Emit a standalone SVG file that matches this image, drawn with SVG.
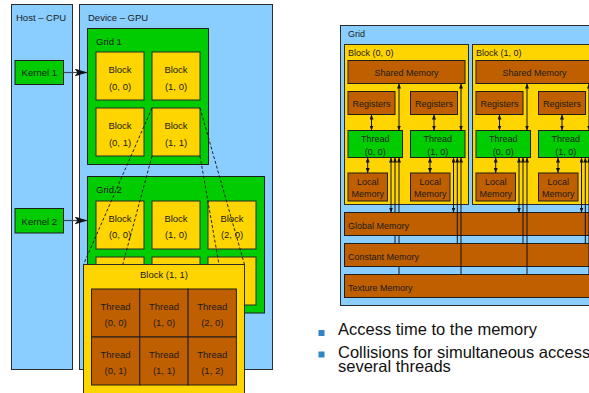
<svg xmlns="http://www.w3.org/2000/svg" width="589" height="393" viewBox="0 0 589 393">
<defs>
<style>
.bl{fill:#8ACEFF;stroke:#2b2b2b;stroke-width:1}
.gr{fill:#00CC00;stroke:#1e1e1e;stroke-width:1}
.ye{fill:#FFD500;stroke:#2b2b2b;stroke-width:1}
.br{fill:#BF5F00;stroke:#1e1e1e;stroke-width:1}
text{font-family:"Liberation Sans",Arial,sans-serif;fill:#1a1a1a}
.l{font-size:9.5px}
.r{font-size:9px}
.c{text-anchor:middle}
.big{font-size:16.5px;fill:#111}
.dash{stroke:#111;stroke-width:0.9;stroke-dasharray:3 2;fill:none}
.ar{stroke:#111;stroke-width:1;fill:none}
.k{stroke:#3a4a5a;stroke-width:1.2;fill:none}
</style>
<marker id="s" markerUnits="userSpaceOnUse" markerWidth="5" markerHeight="4" refX="5" refY="2" orient="auto-start-reverse" viewBox="0 0 5 4"><path d="M0,0 L5,2 L0,4 z" fill="#111"/></marker>
<marker id="K" markerUnits="userSpaceOnUse" markerWidth="13" markerHeight="8" refX="13" refY="4" orient="auto" viewBox="0 0 13 8"><path d="M0,0 L13,4 L0,8 L3,4 z" fill="#111"/></marker>
</defs>

<!-- LEFT DIAGRAM -->
<g id="host"><rect class="bl" x="11.5" y="4.5" width="61" height="365"/><text class="l" x="16" y="21">Host – CPU</text></g>
<g id="device"><rect class="bl" x="79.5" y="4.5" width="193" height="365"/><text class="l" x="88" y="21">Device – GPU</text></g>

<g id="grid1"><rect class="gr" x="87.5" y="28.5" width="121" height="136"/><text class="l" x="96" y="45">Grid 1</text></g>
<g id="g1b00"><rect class="ye" x="96" y="52" width="48" height="48"/><text class="l c" x="120" y="73">Block</text><text class="l c" x="120" y="89.5">(0, 0)</text></g>
<g id="g1b10"><rect class="ye" x="152" y="52" width="48" height="48"/><text class="l c" x="176" y="73">Block</text><text class="l c" x="176" y="89.5">(1, 0)</text></g>
<g id="g1b01"><rect class="ye" x="96" y="108" width="48" height="48"/><text class="l c" x="120" y="129">Block</text><text class="l c" x="120" y="145.5">(0, 1)</text></g>
<g id="g1b11"><rect class="ye" x="152" y="108" width="48" height="48"/><text class="l c" x="176" y="129">Block</text><text class="l c" x="176" y="145.5">(1, 1)</text></g>

<g id="grid2"><rect class="gr" x="87.5" y="176.5" width="177" height="136.5"/><text class="l" x="96" y="193">Grid 2</text></g>
<g id="g2b00"><rect class="ye" x="96" y="201" width="48" height="48"/><text class="l c" x="120" y="221.5">Block</text><text class="l c" x="120" y="237.5">(0, 0)</text></g>
<g id="g2b10"><rect class="ye" x="152" y="201" width="48" height="48"/><text class="l c" x="176" y="221.5">Block</text><text class="l c" x="176" y="237.5">(1, 0)</text></g>
<g id="g2b20"><rect class="ye" x="208" y="201" width="48" height="48"/><text class="l c" x="232" y="221.5">Block</text><text class="l c" x="232" y="237.5">(2, 0)</text></g>
<g id="g2b01"><rect class="ye" x="96" y="257" width="48" height="48"/></g>
<g id="g2b11"><rect class="ye" x="152" y="257" width="48" height="48"/></g>
<g id="g2b21"><rect class="ye" x="208" y="257" width="48" height="48"/></g>

<g id="kernel1"><rect class="gr" x="15" y="60.5" width="48.5" height="24"/><text class="l c" x="39.3" y="76">Kernel 1</text></g>
<g id="kernel2"><rect class="gr" x="15" y="208.5" width="48.5" height="24.5"/><text class="l c" x="39.3" y="224.5">Kernel 2</text></g>

<g id="connectors-left">
<line class="k" x1="63.5" y1="72.5" x2="87.5" y2="72.5" marker-end="url(#K)"/>
<line class="k" x1="63.5" y1="220.5" x2="87.5" y2="220.5" marker-end="url(#K)"/>
<line class="dash" x1="152" y1="108" x2="83.5" y2="264.5"/>
<line class="dash" x1="152" y1="156" x2="83.5" y2="410"/>
<line class="dash" x1="200" y1="108" x2="244.5" y2="264.5"/>
<line class="dash" x1="200" y1="156" x2="244.5" y2="410"/>
</g>

<g id="block11"><rect class="ye" x="83.5" y="264.5" width="161" height="145"/><text class="l c" x="164" y="277.5">Block (1, 1)</text></g>
<g id="t00"><rect class="br" x="91.5" y="289" width="48.3" height="48"/><text class="l c" x="115.6" y="309.5">Thread</text><text class="l c" x="115.6" y="325.5">(0, 0)</text></g>
<g id="t10"><rect class="br" x="139.8" y="289" width="48.3" height="48"/><text class="l c" x="164" y="309.5">Thread</text><text class="l c" x="164" y="325.5">(1, 0)</text></g>
<g id="t20"><rect class="br" x="188.1" y="289" width="48.3" height="48"/><text class="l c" x="212.3" y="309.5">Thread</text><text class="l c" x="212.3" y="325.5">(2, 0)</text></g>
<g id="t01"><rect class="br" x="91.5" y="337" width="48.3" height="48"/><text class="l c" x="115.6" y="357.5">Thread</text><text class="l c" x="115.6" y="373.5">(0, 1)</text></g>
<g id="t11"><rect class="br" x="139.8" y="337" width="48.3" height="48"/><text class="l c" x="164" y="357.5">Thread</text><text class="l c" x="164" y="373.5">(1, 1)</text></g>
<g id="t12"><rect class="br" x="188.1" y="337" width="48.3" height="48"/><text class="l c" x="212.3" y="357.5">Thread</text><text class="l c" x="212.3" y="373.5">(1, 2)</text></g>

<!-- RIGHT DIAGRAM -->
<g id="grid"><rect class="bl" x="340.5" y="25.5" width="270" height="280"/><text class="r" x="348" y="36.5">Grid</text></g>

<g id="blockA"><rect class="ye" x="344.5" y="44.5" width="124" height="160"/><text class="r" x="348" y="56">Block (0, 0)</text></g>
<g id="blockB"><rect class="ye" x="472.5" y="44.5" width="124" height="160"/><text class="r" x="476" y="56">Block (1, 0)</text></g>

<g id="A-shared"><rect class="br" x="348" y="60.5" width="117" height="23"/><text class="r c" x="406.5" y="76">Shared Memory</text></g>
<g id="A-reg0"><rect class="br" x="348" y="91.5" width="47" height="23"/><text class="r c" x="371.5" y="107">Registers</text></g>
<g id="A-reg1"><rect class="br" x="410.5" y="91.5" width="47" height="23"/><text class="r c" x="434" y="107">Registers</text></g>
<g id="A-th0"><rect class="gr" x="348" y="130.5" width="54.5" height="27"/><text class="r c" x="375.2" y="142">Thread</text><text class="r c" x="375.2" y="154.5">(0, 0)</text></g>
<g id="A-th1"><rect class="gr" x="410.5" y="130.5" width="54.5" height="27"/><text class="r c" x="437.7" y="142">Thread</text><text class="r c" x="437.7" y="154.5">(1, 0)</text></g>
<g id="A-loc0"><rect class="br" x="348" y="173" width="39.5" height="28"/><text class="r c" x="367.7" y="185">Local</text><text class="r c" x="367.7" y="197">Memory</text></g>
<g id="A-loc1"><rect class="br" x="410.5" y="173" width="39.5" height="28"/><text class="r c" x="430.2" y="185">Local</text><text class="r c" x="430.2" y="197">Memory</text></g>

<g id="B-shared"><rect class="br" x="476" y="60.5" width="117" height="23"/><text class="r c" x="534.5" y="76">Shared Memory</text></g>
<g id="B-reg0"><rect class="br" x="476" y="91.5" width="47" height="23"/><text class="r c" x="499.5" y="107">Registers</text></g>
<g id="B-reg1"><rect class="br" x="538.5" y="91.5" width="47" height="23"/><text class="r c" x="562" y="107">Registers</text></g>
<g id="B-th0"><rect class="gr" x="476" y="130.5" width="54.5" height="27"/><text class="r c" x="503.2" y="142">Thread</text><text class="r c" x="503.2" y="154.5">(0, 0)</text></g>
<g id="B-th1"><rect class="gr" x="538.5" y="130.5" width="54.5" height="27"/><text class="r c" x="565.7" y="142">Thread</text><text class="r c" x="565.7" y="154.5">(1, 0)</text></g>
<g id="B-loc0"><rect class="br" x="476" y="173" width="39.5" height="28"/><text class="r c" x="495.7" y="185">Local</text><text class="r c" x="495.7" y="197">Memory</text></g>
<g id="B-loc1"><rect class="br" x="538.5" y="173" width="39.5" height="28"/><text class="r c" x="558.2" y="185">Local</text><text class="r c" x="558.2" y="197">Memory</text></g>

<g id="connectors-right-under">
<line class="ar" x1="395" y1="243.5" x2="395" y2="157.5" marker-end="url(#s)"/>
<line class="ar" x1="399" y1="274.5" x2="399" y2="157.5" marker-end="url(#s)"/>
</g>

<g id="global"><rect class="br" x="344.5" y="212.5" width="270" height="23"/><text class="r" x="348" y="228.5">Global Memory</text></g>
<g id="constant"><rect class="br" x="344.5" y="243.5" width="270" height="23"/><text class="r" x="348" y="259.5">Constant Memory</text></g>
<g id="texture"><rect class="br" x="344.5" y="274.5" width="270" height="23"/><text class="r" x="348" y="290.5">Texture Memory</text></g>

<g id="connectors-right">
<!-- block A thread 0 -->
<line class="ar" x1="399" y1="83.5" x2="399" y2="130.5" marker-start="url(#s)" marker-end="url(#s)"/>
<line class="ar" x1="371.5" y1="114.5" x2="371.5" y2="130.5" marker-start="url(#s)" marker-end="url(#s)"/>
<line class="ar" x1="367.7" y1="157.5" x2="367.7" y2="173" marker-start="url(#s)" marker-end="url(#s)"/>
<line class="ar" x1="391" y1="157.5" x2="391" y2="212.5" marker-start="url(#s)" marker-end="url(#s)"/>
<!-- block A thread 1 -->
<line class="ar" x1="461" y1="83.5" x2="461" y2="130.5" marker-start="url(#s)" marker-end="url(#s)"/>
<line class="ar" x1="434" y1="114.5" x2="434" y2="130.5" marker-start="url(#s)" marker-end="url(#s)"/>
<line class="ar" x1="430" y1="157.5" x2="430" y2="173" marker-start="url(#s)" marker-end="url(#s)"/>
<line class="ar" x1="453.5" y1="157.5" x2="453.5" y2="212.5" marker-start="url(#s)" marker-end="url(#s)"/>
<line class="ar" x1="457.3" y1="243.5" x2="457.3" y2="157.5" marker-end="url(#s)"/>
<line class="ar" x1="461" y1="274.5" x2="461" y2="157.5" marker-end="url(#s)"/>
<!-- block B thread 0 -->
<line class="ar" x1="527" y1="83.5" x2="527" y2="130.5" marker-start="url(#s)" marker-end="url(#s)"/>
<line class="ar" x1="499.5" y1="114.5" x2="499.5" y2="130.5" marker-start="url(#s)" marker-end="url(#s)"/>
<line class="ar" x1="495.7" y1="157.5" x2="495.7" y2="173" marker-start="url(#s)" marker-end="url(#s)"/>
<line class="ar" x1="519" y1="157.5" x2="519" y2="212.5" marker-start="url(#s)" marker-end="url(#s)"/>
<line class="ar" x1="523" y1="243.5" x2="523" y2="157.5" marker-end="url(#s)"/>
<line class="ar" x1="527" y1="274.5" x2="527" y2="157.5" marker-end="url(#s)"/>
<!-- block B thread 1 -->
<line class="ar" x1="589" y1="83.5" x2="589" y2="130.5" marker-start="url(#s)" marker-end="url(#s)"/>
<line class="ar" x1="562" y1="114.5" x2="562" y2="130.5" marker-start="url(#s)" marker-end="url(#s)"/>
<line class="ar" x1="558" y1="157.5" x2="558" y2="173" marker-start="url(#s)" marker-end="url(#s)"/>
<line class="ar" x1="581.5" y1="157.5" x2="581.5" y2="212.5" marker-start="url(#s)" marker-end="url(#s)"/>
<line class="ar" x1="585.3" y1="243.5" x2="585.3" y2="157.5" marker-end="url(#s)"/>
<line class="ar" x1="589" y1="274.5" x2="589" y2="157.5" marker-end="url(#s)"/>
</g>

<!-- BULLETS -->
<g id="bullets">
<rect x="318.5" y="330" width="6" height="6" fill="#2E86C8"/>
<text class="big" x="338" y="335">Access time to the memory</text>
<rect x="318.5" y="351.5" width="6" height="6" fill="#2E86C8"/>
<text class="big" x="338" y="358">Collisions for simultaneous access</text>
<text class="big" x="338" y="371.5">several threads</text>
</g>
</svg>
